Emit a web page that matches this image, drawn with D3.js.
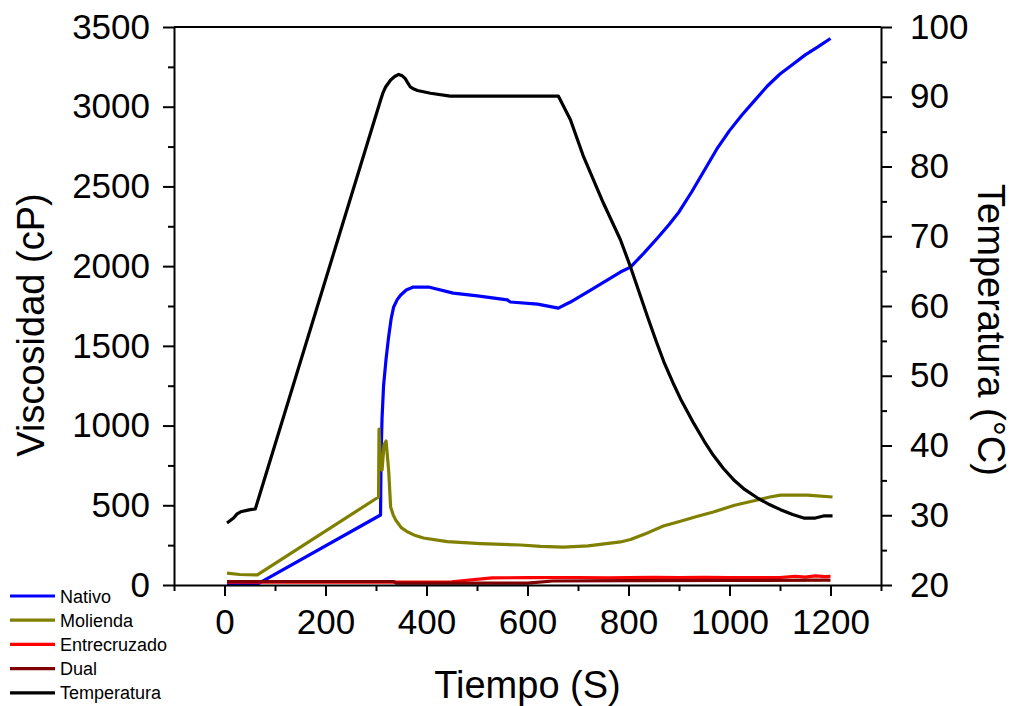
<!DOCTYPE html>
<html>
<head>
<meta charset="utf-8">
<script src="https://cdn.jsdelivr.net/npm/d3@7"></script>
<style>
  body { margin: 0; background: #fff; }
  text { font-family: "Liberation Sans", Arial, sans-serif; fill: #000; }
</style>
</head>
<body>
<div id="chart"></div>
<script>

/* * * * * * * * * * * * * *
*         DATA             *
* * * * * * * * * * * * * */

// [tiempo (s), viscosidad (cP)]
const nativo = [
    [5, 6], [65, 6], [309, 439], [310, 800], [312, 1050], [315, 1250], [320, 1420], [325, 1556],
    [330, 1670], [335, 1744], [342, 1790], [349, 1819], [360, 1850], [374, 1869],
    [404, 1869], [453, 1831], [501, 1813], [560, 1788], [566, 1775], [620, 1762],
    [661, 1737], [685, 1775], [725, 1850], [784, 1963], [804, 1994], [830, 2080],
    [857, 2175], [880, 2260], [900, 2340], [925, 2465], [950, 2600], [975, 2735],
    [1000, 2850], [1025, 2950], [1050, 3040], [1075, 3130], [1100, 3205],
    [1125, 3265], [1150, 3325], [1175, 3375], [1200, 3428]
];

const molienda = [
    [5, 75], [30, 66], [65, 63], [305, 552], [306, 978], [309, 760], [312, 721],
    [316, 880], [320, 903], [325, 721], [329, 489], [334, 440], [339, 408], [350, 360],
    [362, 334], [378, 310], [394, 295], [441, 272], [507, 260], [586, 251], [626, 242],
    [671, 238], [720, 245], [784, 270], [804, 285], [840, 330], [869, 370],
    [903, 400], [935, 430], [968, 458], [1010, 500], [1055, 533], [1080, 552], [1101, 564],
    [1154, 564], [1204, 552]
];

const entrecruzado = [
    [5, 18], [200, 18], [335, 18], [450, 20], [480, 30], [530, 45], [600, 46],
    [700, 47], [760, 45], [800, 46], [850, 48], [900, 47], [950, 48], [1000, 46],
    [1050, 47], [1100, 47], [1130, 55], [1150, 49], [1170, 57], [1190, 52], [1200, 55]
];

const dual = [
    [5, 22], [335, 22], [340, 12], [600, 12], [650, 25], [800, 28], [1000, 29], [1200, 30]
];

// [tiempo (s), temperatura (°C)]
const temperatura = [
    [5, 28.9], [18, 29.6], [25, 30.2], [32, 30.5], [51, 30.8], [61, 30.9], [309, 89.5],
    [314, 90.6], [319, 91.4], [329, 92.4], [337, 92.9], [345, 93.2], [352, 93.0], [358, 92.6],
    [362, 92.1], [368, 91.4], [375, 91.1], [382, 90.9], [408, 90.5], [447, 90.1], [500, 90.1],
    [661, 90.1], [685, 86.7], [711, 81.4], [750, 74.8], [784, 69.5], [804, 65.6], [838, 58.4],
    [855, 54.9], [870, 52.0], [888, 49.0], [905, 46.4], [929, 43.2], [950, 40.6], [968, 38.6],
    [988, 36.7], [1008, 35.1], [1030, 33.7], [1057, 32.4], [1080, 31.5], [1101, 30.8],
    [1125, 30.1], [1147, 29.6], [1170, 29.6], [1186, 29.9], [1204, 29.9]
];

const series = [
    {name: "Nativo", data: nativo, color: "#0000ff", axis: "left"},
    {name: "Molienda", data: molienda, color: "#808000", axis: "left"},
    {name: "Entrecruzado", data: entrecruzado, color: "#ff0000", axis: "left"},
    {name: "Dual", data: dual, color: "#800000", axis: "left"},
    {name: "Temperatura", data: temperatura, color: "#000000", axis: "right"}
];

const xTicks = [0, 200, 400, 600, 800, 1000, 1200];
const yLeftTicks = [0, 500, 1000, 1500, 2000, 2500, 3000, 3500];
const yRightTicks = [20, 30, 40, 50, 60, 70, 80, 90, 100];


/* * * * * * * * * * * * * *
*         CHART            *
* * * * * * * * * * * * * */

const width = 1013, height = 706;
const plot = {left: 174, right: 881, top: 27, bottom: 585};

const svg = d3.select("#chart").append("svg")
    .attr("width", width)
    .attr("height", height);

const x = d3.scaleLinear().domain([-100, 1300]).range([plot.left, plot.right]);
const yL = d3.scaleLinear().domain([0, 3500]).range([plot.bottom, plot.top]);
const yR = d3.scaleLinear().domain([20, 100]).range([plot.bottom, plot.top]);

// lines
series.forEach(s => {
    const y = s.axis === "left" ? yL : yR;
    const line = d3.line()
        .x(d => x(d[0]))
        .y(d => y(d[1]));
    svg.append("path")
        .datum(s.data)
        .attr("fill", "none")
        .attr("stroke", s.color)
        .attr("stroke-width", 3.2)
        .attr("stroke-linejoin", "round")
        .attr("d", line);
});

// axes
const fmt = d3.format("d");

function styleAxis(g) {
    g.select(".domain").attr("stroke-width", 2);
    g.selectAll(".tick line").attr("stroke-width", 2);
    g.selectAll(".tick text")
        .style("font-size", "35px")
        .style("font-family", "'Liberation Sans', Arial, sans-serif");
}

// minor ticks
function minorAxis(g, axis) {
    g.call(axis);
    g.select(".domain").remove();
    g.selectAll("text").remove();
    g.selectAll(".tick line").attr("stroke-width", 2);
}

svg.append("g")
    .attr("transform", `translate(0,${plot.bottom})`)
    .call(g => minorAxis(g, d3.axisBottom(x).tickValues(d3.range(-100, 1301, 200)).tickSize(6)));
svg.append("g")
    .attr("transform", `translate(0,${plot.bottom})`)
    .call(d3.axisBottom(x).tickValues(xTicks).tickFormat(fmt).tickSize(11).tickSizeOuter(0).tickPadding(13))
    .call(styleAxis);

svg.append("g")
    .attr("transform", `translate(${plot.left},0)`)
    .call(g => minorAxis(g, d3.axisLeft(yL).tickValues(d3.range(250, 3500, 500)).tickSize(6)));
svg.append("g")
    .attr("transform", `translate(${plot.left},0)`)
    .call(d3.axisLeft(yL).tickValues(yLeftTicks).tickFormat(fmt).tickSize(11).tickSizeOuter(0).tickPadding(13))
    .call(styleAxis);

svg.append("g")
    .attr("transform", `translate(${plot.right},0)`)
    .call(g => minorAxis(g, d3.axisRight(yR).tickValues(d3.range(25, 100, 10)).tickSize(6)));
svg.append("g")
    .attr("transform", `translate(${plot.right},0)`)
    .call(d3.axisRight(yR).tickValues(yRightTicks).tickFormat(fmt).tickSize(11).tickSizeOuter(0).tickPadding(18))
    .call(styleAxis);

// top frame
svg.append("line")
    .attr("x1", plot.left).attr("x2", plot.right)
    .attr("y1", plot.top).attr("y2", plot.top)
    .attr("stroke", "#000").attr("stroke-width", 2);

// axis titles
svg.append("text")
    .attr("x", (x(0) + x(1200)) / 2)
    .attr("y", 698)
    .attr("text-anchor", "middle")
    .style("font-size", "38px")
    .text("Tiempo (S)");

svg.append("text")
    .attr("transform", `translate(44,${(plot.top + plot.bottom) / 2 + 19}) rotate(-90)`)
    .attr("text-anchor", "middle")
    .style("font-size", "38px")
    .text("Viscosidad (cP)");

svg.append("text")
    .attr("transform", `translate(978,${(plot.top + plot.bottom) / 2 + 24}) rotate(90)`)
    .attr("text-anchor", "middle")
    .style("font-size", "38px")
    .text("Temperatura (°C)");

// legend
const legend = svg.append("g").attr("transform", "translate(10,596)");
series.forEach((s, i) => {
    const row = legend.append("g").attr("transform", `translate(0,${i * 24.2})`);
    row.append("line")
        .attr("x1", 0).attr("x2", 45)
        .attr("stroke", s.color)
        .attr("stroke-width", 3.2);
    row.append("text")
        .attr("x", 50)
        .attr("y", 6.5)
        .style("font-size", "18px")
        .text(s.name);
});

</script>
</body>
</html>
